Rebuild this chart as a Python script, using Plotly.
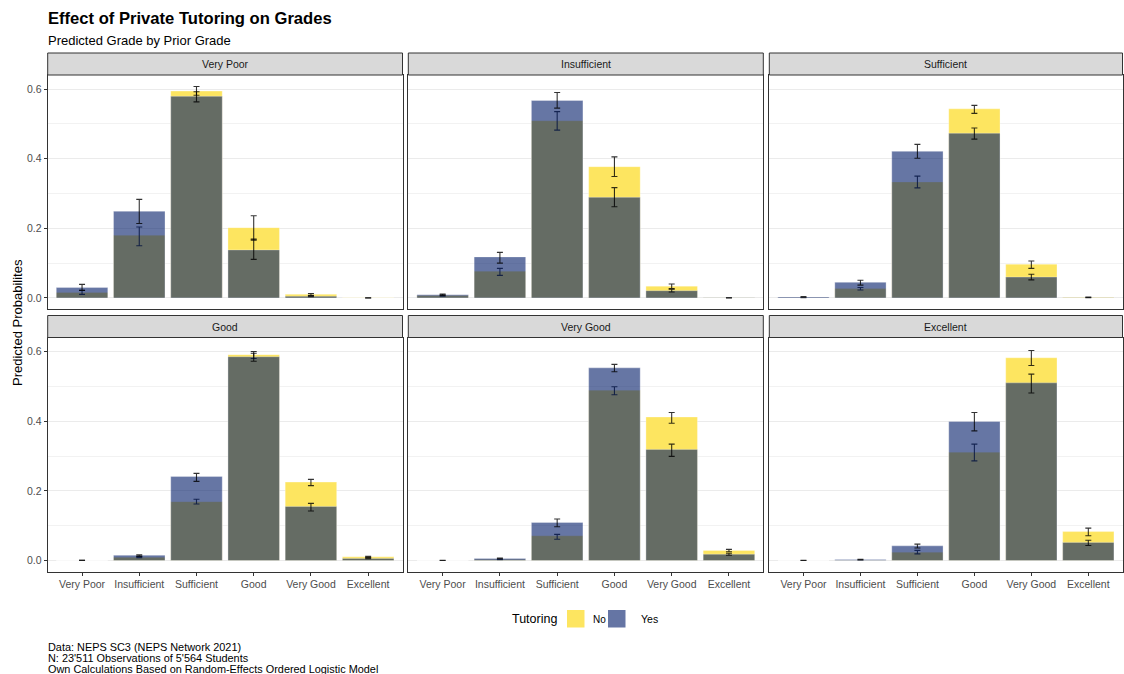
import plotly.graph_objects as go

W, H = 1124, 674

facets = ["Very Poor", "Insufficient", "Sufficient", "Good", "Very Good", "Excellent"]
grades = ["Very Poor", "Insufficient", "Sufficient", "Good", "Very Good", "Excellent"]

# Predicted probabilities, Tutoring = No (one row per prior grade facet)
no_vals = [
    [0.016, 0.180, 0.594, 0.202, 0.0105, 0.0006],
    [0.007, 0.077, 0.509, 0.377, 0.034, 0.001],
    [0.001, 0.027, 0.333, 0.543, 0.097, 0.002],
    [0.0002, 0.009, 0.169, 0.591, 0.225, 0.0105],
    [0.0001, 0.003, 0.071, 0.489, 0.412, 0.029],
    [0.0001, 0.001, 0.024, 0.311, 0.582, 0.083],
]
no_lo = [
    [0.0105, 0.150, 0.582, 0.166, 0.008, 0.0004],
    [0.005, 0.065, 0.482, 0.349, 0.027, 0.0007],
    [0.0008, 0.023, 0.316, 0.530, 0.085, 0.0015],
    [0.0001, 0.008, 0.162, 0.580, 0.215, 0.009],
    [0.00005, 0.0025, 0.061, 0.476, 0.394, 0.025],
    [0.00005, 0.0008, 0.019, 0.286, 0.560, 0.071],
]
no_hi = [
    [0.022, 0.204, 0.607, 0.236, 0.013, 0.0008],
    [0.009, 0.085, 0.535, 0.405, 0.040, 0.0013],
    [0.0015, 0.030, 0.350, 0.553, 0.106, 0.0025],
    [0.0003, 0.011, 0.176, 0.600, 0.233, 0.012],
    [0.00015, 0.0035, 0.075, 0.499, 0.425, 0.032],
    [0.00015, 0.0012, 0.029, 0.334, 0.603, 0.093],
]

# Predicted probabilities, Tutoring = Yes
yes_vals = [
    [0.030, 0.249, 0.579, 0.138, 0.005, 0.0003],
    [0.009, 0.118, 0.567, 0.289, 0.021, 0.0005],
    [0.003, 0.045, 0.421, 0.473, 0.060, 0.001],
    [0.0003, 0.015, 0.241, 0.585, 0.155, 0.006],
    [0.0002, 0.006, 0.109, 0.553, 0.319, 0.018],
    [0.0002, 0.003, 0.042, 0.399, 0.510, 0.052],
]
yes_lo = [
    [0.022, 0.214, 0.563, 0.111, 0.004, 0.0002],
    [0.007, 0.100, 0.545, 0.262, 0.017, 0.0003],
    [0.002, 0.037, 0.401, 0.456, 0.052, 0.0008],
    [0.0002, 0.012, 0.227, 0.572, 0.142, 0.005],
    [0.0001, 0.005, 0.097, 0.542, 0.299, 0.015],
    [0.0001, 0.0025, 0.036, 0.372, 0.481, 0.043],
]
yes_hi = [
    [0.039, 0.283, 0.592, 0.169, 0.007, 0.0004],
    [0.011, 0.131, 0.590, 0.317, 0.025, 0.0007],
    [0.004, 0.051, 0.441, 0.488, 0.068, 0.0013],
    [0.0004, 0.016, 0.250, 0.595, 0.164, 0.007],
    [0.0003, 0.007, 0.119, 0.563, 0.334, 0.021],
    [0.0003, 0.0035, 0.047, 0.425, 0.535, 0.058],
]

y_ticks = [0.0, 0.2, 0.4, 0.6]
y_ticktext = ["0.0", "0.2", "0.4", "0.6"]

NO_COLOR = "rgb(253,229,96)"
YES_COLOR = "rgba(0,26,104,0.6)"
YES_KEY = "rgb(101,117,164)"
FONT = "Liberation Sans, Arial, sans-serif"

def px_x(p):
    return p / W

def px_y(p):
    return 1 - p / H

col_x = [(47.7, 402.5), (408.3, 763.3), (769.3, 1122.5)]
row_plot = [(75, 309), (337.5, 571.5)]
row_strip = [(53, 75), (315.5, 337.5)]

fig = go.Figure()
layout = dict(
    width=W, height=H, margin=dict(l=0, r=0, t=0, b=0),
    paper_bgcolor="white", plot_bgcolor="white",
    barmode="overlay", showlegend=False, bargap=0.1,
    font=dict(family=FONT, color="#4D4D4D"),
)
shapes = []
annotations = []

for i, fac in enumerate(facets):
    r, c = divmod(i, 3)
    n = "" if i == 0 else str(i + 1)
    xa, ya = "x" + n, "y" + n
    err_no_p = [h - v for h, v in zip(no_hi[i], no_vals[i])]
    err_no_m = [v - l for v, l in zip(no_vals[i], no_lo[i])]
    err_yes_p = [h - v for h, v in zip(yes_hi[i], yes_vals[i])]
    err_yes_m = [v - l for v, l in zip(yes_vals[i], yes_lo[i])]
    fig.add_trace(go.Bar(
        x=grades, y=no_vals[i], name="No", xaxis=xa, yaxis=ya, width=0.9,
        marker=dict(color=NO_COLOR, line=dict(width=0.6, color="rgba(255,255,255,0.5)")),
        error_y=dict(type="data", symmetric=False, array=err_no_p, arrayminus=err_no_m,
                     color="rgba(0,0,0,0.8)", thickness=1.1, width=3),
    ))
    fig.add_trace(go.Bar(
        x=grades, y=yes_vals[i], name="Yes", xaxis=xa, yaxis=ya, width=0.9,
        marker=dict(color=YES_COLOR, line=dict(width=0.6, color="rgba(255,255,255,0.5)")),
        error_y=dict(type="data", symmetric=False, array=err_yes_p, arrayminus=err_yes_m,
                     color="rgba(0,0,0,0.8)", thickness=1.1, width=3),
    ))
    x0, x1 = col_x[c]
    y0, y1 = row_plot[r]
    layout["xaxis" + n] = dict(
        domain=[px_x(x0), px_x(x1)], anchor=ya, type="category",
        categoryorder="array", categoryarray=grades, range=[-0.6, 5.6],
        showgrid=False, zeroline=False,
        showline=True, mirror=True, linecolor="#333333", linewidth=1,
        showticklabels=(r == 1), ticks="outside" if r == 1 else "",
        ticklen=3, tickcolor="#333333", tickwidth=1,
        tickfont=dict(size=10.5, color="#4D4D4D", family=FONT),
    )
    layout["yaxis" + n] = dict(
        domain=[px_y(y1), px_y(y0)], anchor=xa, range=[-0.0316, 0.6402],
        tickvals=y_ticks, ticktext=y_ticktext,
        showgrid=True, gridcolor="#EBEBEB", gridwidth=1, zeroline=False,
        minor=dict(tickvals=[0.1, 0.3, 0.5], showgrid=True, gridcolor="#F2F2F2", gridwidth=0.6, ticks=""),
        showline=True, mirror=True, linecolor="#333333", linewidth=1,
        showticklabels=(c == 0), ticks="outside" if c == 0 else "",
        ticklen=3, tickcolor="#333333", tickwidth=1,
        tickfont=dict(size=10.5, color="#4D4D4D", family=FONT),
    )
    s0, s1 = row_strip[r]
    shapes.append(dict(type="rect", xref="paper", yref="paper",
                       x0=px_x(x0), x1=px_x(x1), y0=px_y(s1), y1=px_y(s0),
                       fillcolor="#D9D9D9", line=dict(color="#333333", width=1), layer="above"))
    annotations.append(dict(text=fac, xref="paper", yref="paper",
                            x=px_x((x0 + x1) / 2), y=px_y((s0 + s1) / 2),
                            xanchor="center", yanchor="middle", showarrow=False,
                            font=dict(size=10.5, color="#1A1A1A", family=FONT)))

# Titles
annotations.append(dict(text="<b>Effect of Private Tutoring on Grades</b>", xref="paper", yref="paper",
                        x=px_x(46), y=px_y(18), xanchor="left", yanchor="middle", showarrow=False,
                        font=dict(size=16.6, color="black", family=FONT)))
annotations.append(dict(text="Predicted Grade by Prior Grade", xref="paper", yref="paper",
                        x=px_x(46), y=px_y(40), xanchor="left", yanchor="middle", showarrow=False,
                        font=dict(size=13, color="black", family=FONT)))
annotations.append(dict(text="Predicted Probabilites", xref="paper", yref="paper",
                        x=px_x(17), y=px_y(323), xanchor="center", yanchor="middle", showarrow=False,
                        textangle=-90, font=dict(size=13, color="black", family=FONT)))

# Legend
annotations.append(dict(text="Tutoring", xref="paper", yref="paper",
                        x=px_x(559), y=px_y(619), xanchor="right", yanchor="middle", showarrow=False,
                        font=dict(size=12.5, color="black", family=FONT)))
shapes.append(dict(type="rect", xref="paper", yref="paper", x0=px_x(567), x1=px_x(584.5),
                   y0=px_y(627.5), y1=px_y(610), fillcolor=NO_COLOR, line=dict(width=0)))
shapes.append(dict(type="rect", xref="paper", yref="paper", x0=px_x(608), x1=px_x(625.5),
                   y0=px_y(627.5), y1=px_y(610), fillcolor=YES_KEY, line=dict(width=0)))
annotations.append(dict(text="No", xref="paper", yref="paper",
                        x=px_x(591), y=px_y(619), xanchor="left", yanchor="middle", showarrow=False,
                        font=dict(size=10, color="black", family=FONT)))
annotations.append(dict(text="Yes", xref="paper", yref="paper",
                        x=px_x(639), y=px_y(619), xanchor="left", yanchor="middle", showarrow=False,
                        font=dict(size=10.5, color="black", family=FONT)))

# Caption
caption = ["Data: NEPS SC3 (NEPS Network 2021)",
           "N: 23'511 Observations of 5'564 Students",
           "Own Calculations Based on Random-Effects Ordered Logistic Model"]
for k, line in enumerate(caption):
    annotations.append(dict(text=line, xref="paper", yref="paper",
                            x=px_x(46), y=px_y(647 + 11 * k), xanchor="left", yanchor="middle",
                            showarrow=False, font=dict(size=10.9, color="black", family=FONT)))

layout["shapes"] = shapes
layout["annotations"] = annotations
fig.update_layout(**layout)
fig.write_html("out.html")
